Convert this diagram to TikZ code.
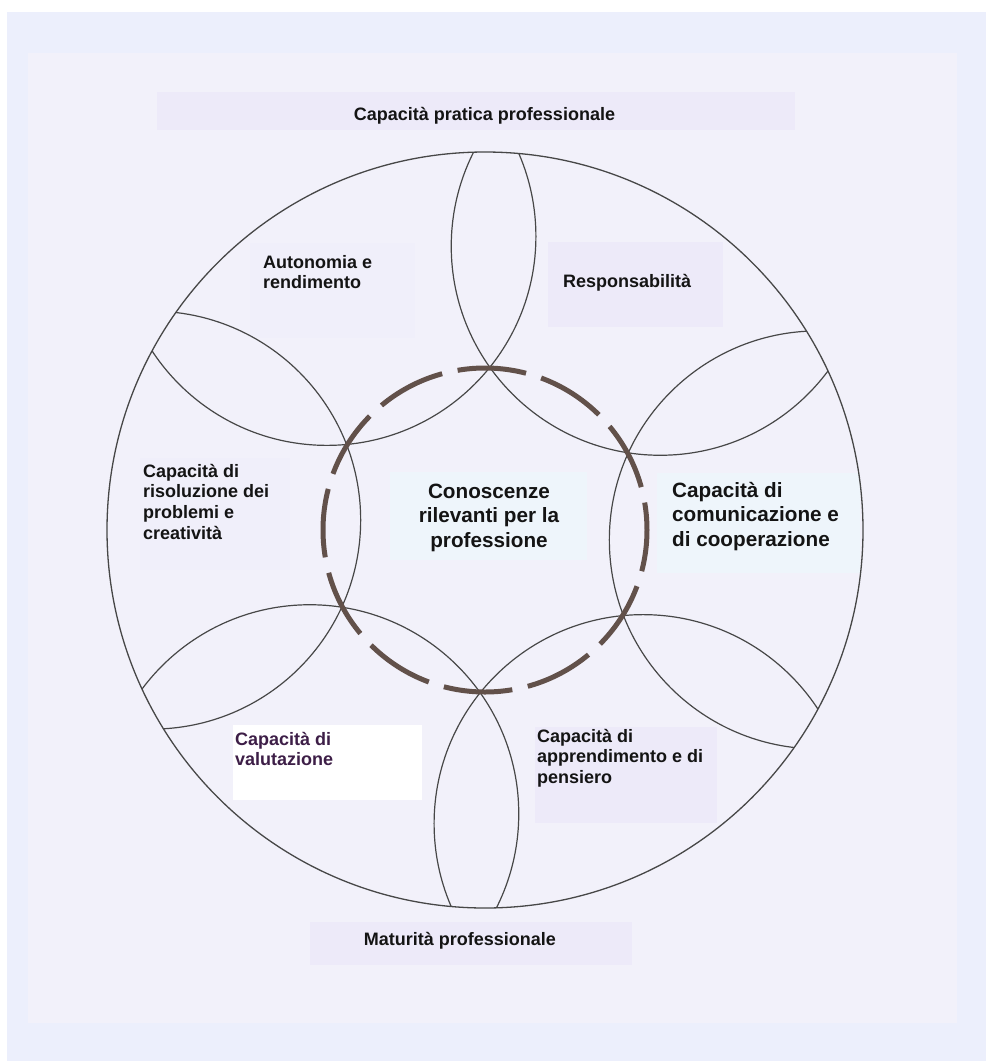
\documentclass[tikz,border=0pt]{standalone}
\usepackage{fontspec}
\setmainfont{Liberation Sans}
\usetikzlibrary{calc}
\definecolor{outerbg}{HTML}{ECEFFC}
\definecolor{innerbg}{HTML}{F2F1FA}
\definecolor{boxlav}{HTML}{EDEAF9}
\definecolor{boxcyan}{HTML}{EEF5FB}
\definecolor{boxpale}{HTML}{F0EFFA}
\definecolor{ringcol}{HTML}{62514A}
\definecolor{linecol}{HTML}{474747}
\definecolor{txt}{HTML}{141414}
\definecolor{purpletxt}{HTML}{3D1E47}
\begin{document}
\begin{tikzpicture}[x=1pt,y=-1pt,
  petal/.style={draw=linecol,line width=1.2pt},
  bigc/.style={draw=linecol,line width=1.3pt},
  dashring/.style={draw=ringcol,line width=5pt,line cap=butt,
    dash pattern=on 69pt off 15.82pt,dash phase=27.4pt},
  lbl/.style={inner sep=0pt,text=txt,font=\bfseries\fontsize{18}{20.7}\selectfont},
  biglbl/.style={inner sep=0pt,text=txt,font=\bfseries\fontsize{20.7}{24.8}\selectfont}]
\useasboundingbox (0,0) rectangle (986,1061);
\fill[white] (0,0) rectangle (986,1061);
\fill[outerbg] (7,12) rectangle (986,1061);
\fill[innerbg] (28,53) rectangle (957,1023);
% label backgrounds
\fill[boxlav] (157,92) rectangle (795,130);
\fill[boxpale] (250,243) rectangle (415,338);
\fill[boxlav] (548,242) rectangle (723,327);
\fill[boxpale] (140,458) rectangle (290,570);
\fill[boxcyan] (390,472) rectangle (587,560);
\fill[boxcyan] (657,473) rectangle (860,573);
\fill[white] (233,725) rectangle (422,800);
\fill[boxlav] (535,727) rectangle (717,823);
\fill[boxlav] (310,922) rectangle (632,965);
% circles
\coordinate (O) at (485,530);
\begin{scope}
  \clip (O) circle[radius=378];
  \foreach \k in {0,...,5}
    \draw[petal] ($(O)+(1.7+60*\k:333.5)$) circle[radius=209];
\end{scope}
\draw[bigc] (O) circle[radius=378];
\draw[dashring] (O) circle[radius=162];
% labels
\node[lbl,anchor=base] (top) at (484.5,120) {Capacità pratica professionale};
\node[lbl,anchor=base west] (auto) at (263,268) {\begin{tabular}[t]{@{}l@{}}Autonomia e\\rendimento\end{tabular}};
\node[lbl,anchor=base west] (resp) at (563,287) {Responsabilità};
\node[lbl,anchor=base west] (riso) at (143,477) {\begin{tabular}[t]{@{}l@{}}Capacità di\\risoluzione dei\\problemi e\\creatività\end{tabular}};
\node[biglbl,anchor=base] (cono) at (489,498) {\begin{tabular}[t]{@{}c@{}}Conoscenze\\rilevanti per la\\professione\end{tabular}};
\node[biglbl,anchor=base west] (comu) at (672,497) {\begin{tabular}[t]{@{}l@{}}Capacità di\\comunicazione e\\di cooperazione\end{tabular}};
\node[lbl,anchor=base west,text=purpletxt] (valu) at (235,745) {\begin{tabular}[t]{@{}l@{}}Capacità di\\valutazione\end{tabular}};
\node[lbl,anchor=base west] (appr) at (537,742) {\begin{tabular}[t]{@{}l@{}}Capacità di\\apprendimento e di\\pensiero\end{tabular}};
\node[lbl,anchor=base] (matu) at (460,945) {Maturità professionale};
\end{tikzpicture}
\end{document}
